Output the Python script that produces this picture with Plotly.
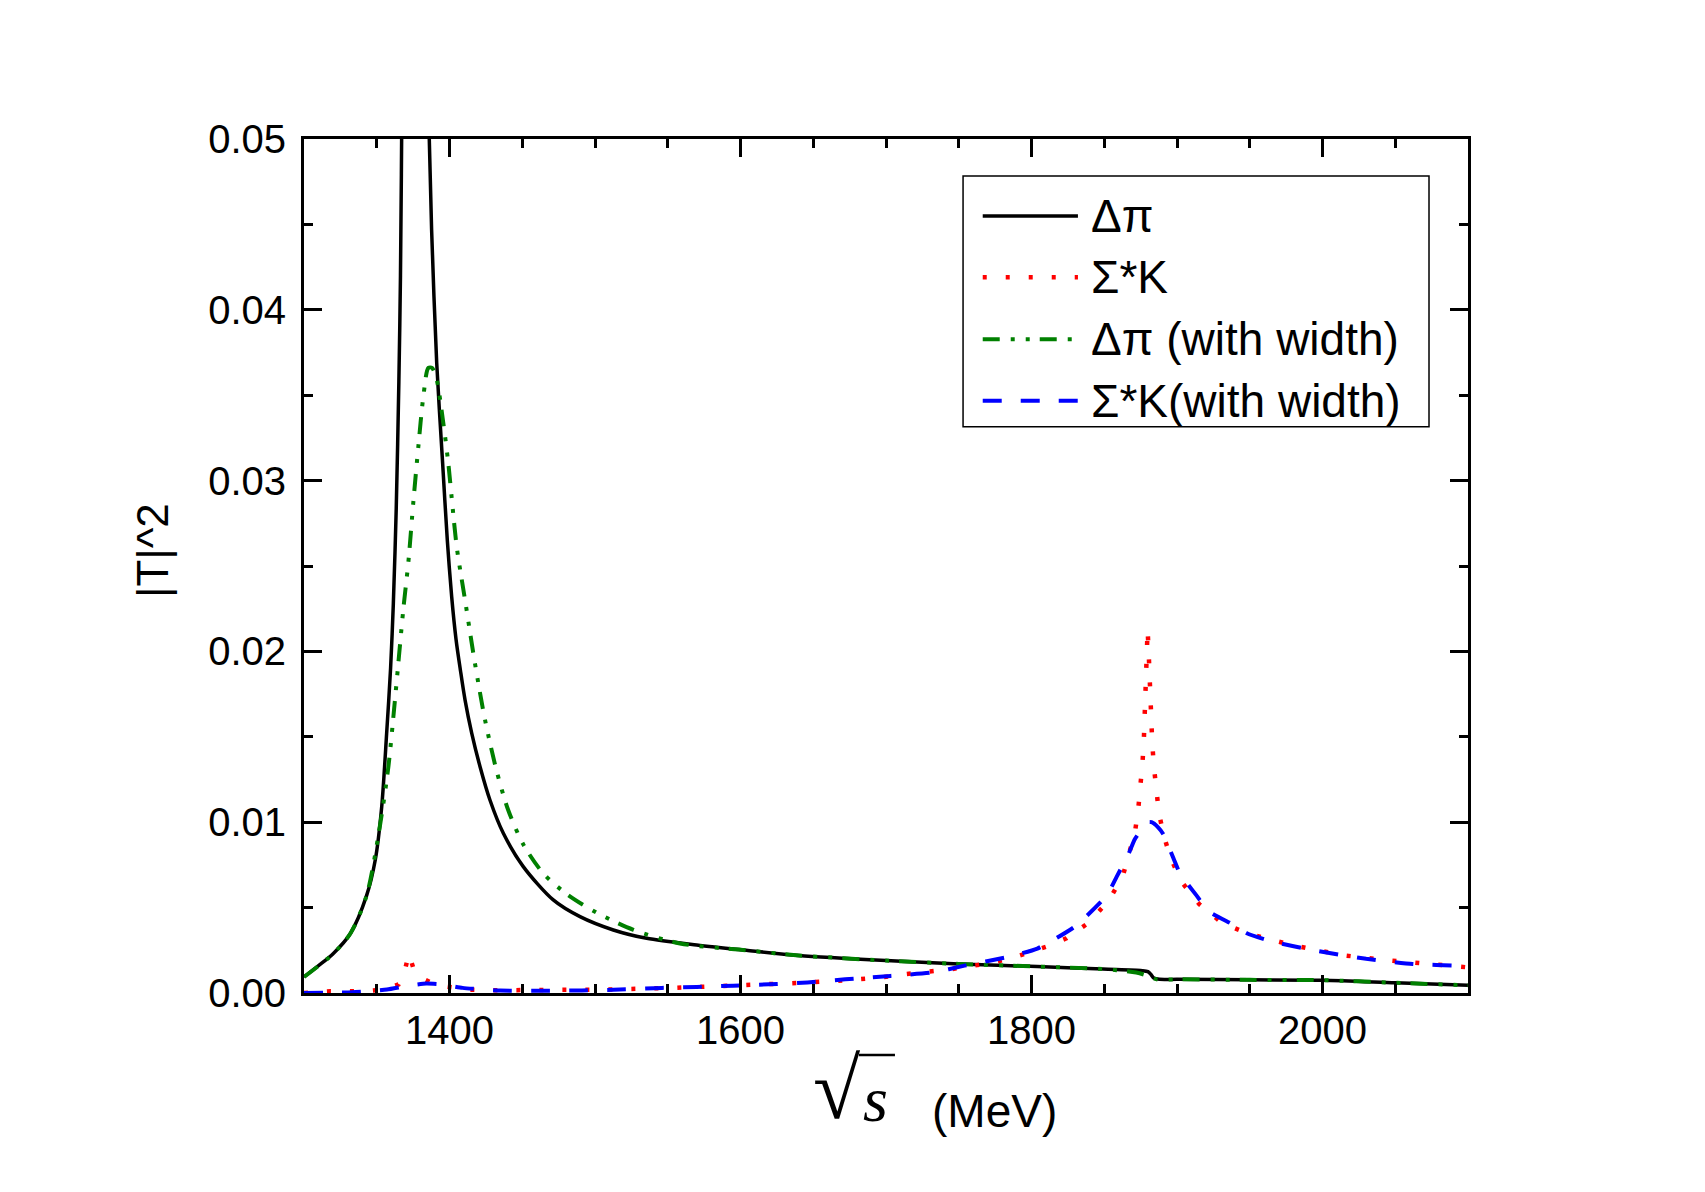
import plotly.graph_objects as go

# ---------------- data ----------------
dpi_x = [1300, 1310, 1320, 1332, 1343, 1349, 1353.4, 1356.8, 1359.5, 1361.4, 1363.4, 1365.2,
         1366.3, 1367.1, 1369, 1372, 1376, 1380, 1383, 1386.1, 1387.7, 1391.2, 1395.3,
         1398.5, 1401.5, 1404.5, 1407.5, 1410.7, 1415.3, 1421, 1427.8, 1437, 1450.7, 1471.3,
         1489.7, 1512.6, 1535.5, 1569.9, 1604, 1640, 1700, 1750, 1804, 1849, 1876, 1880,
         1882, 1884, 1888, 1900, 1950, 2000, 2050, 2100]
dpi_y = [0.00094, 0.0016, 0.0023, 0.0035, 0.0057, 0.0078, 0.0109, 0.0152, 0.019, 0.0228,
         0.0284, 0.0358, 0.042, 0.050, 0.08, 0.16, 0.30, 0.16, 0.08, 0.050, 0.0447, 0.0369,
         0.0310, 0.0265, 0.0232, 0.0207, 0.0189, 0.01715, 0.0152, 0.01325, 0.0113, 0.00935,
         0.0074, 0.00545, 0.00447, 0.00369, 0.0032, 0.00281, 0.0025, 0.0022, 0.0019, 0.0017,
         0.00155, 0.0014, 0.00131, 0.00125, 0.0011, 0.00088, 0.0008, 0.0008, 0.00077,
         0.00075, 0.0006, 0.00045]

sk_x = [1300, 1318, 1340, 1355, 1365, 1369, 1372, 1375, 1380, 1390, 1396, 1412, 1430, 1476,
        1508, 1554, 1590, 1634, 1665, 1695, 1713, 1745, 1775, 1792, 1810, 1824, 1839, 1853,
        1862.6, 1868, 1871.1, 1873.4, 1875, 1876.3, 1877.2, 1877.9, 1878.4, 1879, 1879.8,
        1880.5, 1881, 1881.5, 1882.1, 1883, 1884.2, 1885.5, 1887.6, 1891.3, 1895.6, 1903.2,
        1915.3, 1931, 1948, 1979, 2015, 2047, 2100]
sk_y = [0.0, 0.0001, 0.0001, 0.0002, 0.0005, 0.0012, 0.0023, 0.0015, 0.0009, 0.0005, 0.0004,
        0.0002, 0.00016, 0.00015, 0.0002, 0.0003, 0.0004, 0.00057, 0.0007, 0.0009, 0.0011,
        0.0014, 0.0018, 0.0022, 0.0027, 0.0032, 0.0041, 0.0054, 0.0068, 0.0085, 0.0094,
        0.0108, 0.0121, 0.0135, 0.0148, 0.0162, 0.0175, 0.0195, 0.0213, 0.0200, 0.0186,
        0.0173, 0.0159, 0.0146, 0.0132, 0.0119, 0.0105, 0.0091, 0.0079, 0.0065, 0.0052,
        0.0041, 0.0035, 0.0028, 0.0022, 0.0019, 0.0015]

dpiw_x = [1300, 1320, 1332, 1343, 1352.2, 1358, 1362.5, 1368.3, 1371.7, 1375.1, 1378.6, 1382,
          1385.5, 1388, 1391.2, 1395.7, 1399.2, 1401.5, 1405, 1410.7, 1417.5, 1424.4, 1432.4,
          1440.4, 1450.7, 1464.5, 1480.5, 1501.2, 1526.4, 1558.4, 1604, 1640, 1700, 1750,
          1804, 1849, 1872, 1880, 1886, 1900, 1950, 2000, 2050, 2100]
dpiw_y = [0.00094, 0.0023, 0.0035, 0.0057, 0.0098, 0.01325, 0.01715, 0.0225, 0.0252, 0.0287,
          0.0320, 0.0349, 0.0366, 0.0366, 0.0359, 0.0334, 0.0310, 0.0290, 0.0261, 0.0230,
          0.0193, 0.0160, 0.0130, 0.0107, 0.0087, 0.0070, 0.0058, 0.0047, 0.0037, 0.0029,
          0.0025, 0.0022, 0.0019, 0.0017, 0.00155, 0.0014, 0.0012, 0.0010, 0.0008, 0.0008,
          0.00077, 0.00075, 0.0006, 0.00045]

skw_x = [1300, 1333, 1357, 1370, 1384, 1395, 1409, 1435, 1464, 1491, 1517, 1546, 1570, 1595,
         1625, 1646, 1672, 1703, 1732, 1754, 1783, 1804, 1830, 1851.6, 1858.5, 1866.5, 1871,
         1876, 1880, 1882.5, 1887, 1890.6, 1897.5, 1902, 1913.5, 1921.5, 1938.7, 1948, 1966,
         1994, 2030, 2062, 2095, 2100]
skw_y = [0.0, 0.00004, 0.0002, 0.0004, 0.00055, 0.0005, 0.0003, 0.00014, 0.00013, 0.00015,
         0.0002, 0.0003, 0.00035, 0.00043, 0.00053, 0.00062, 0.0008, 0.0010, 0.0012, 0.0016,
         0.0021, 0.0026, 0.0039, 0.0057, 0.0068, 0.0081, 0.0090, 0.0096, 0.0100, 0.0100,
         0.0097, 0.0093, 0.0079, 0.0070, 0.0057, 0.0048, 0.0040, 0.0035, 0.0030, 0.0025,
         0.0020, 0.0017, 0.0016, 0.0016]

series_names = ["Δπ", "Σ*K", "Δπ (with width)", "Σ*K(with width)"]
x_ticks = [1400, 1600, 1800, 2000]
y_ticks = [0.00, 0.01, 0.02, 0.03, 0.04, 0.05]

# ---------------- styles ----------------
styles = [
    dict(color="black", width=3.5, dash="solid"),
    dict(color="#ff0000", width=4.5, dash="4px,19px"),
    dict(color="#008000", width=4, dash="17px,11px,4px,11px,4px,10px"),
    dict(color="#0000ff", width=4, dash="19px,19px"),
]
shapes_mode = [("spline", 0.8), ("linear", 0), ("spline", 0.8), ("spline", 0.5)]

FONT = "Liberation Sans, Arial, sans-serif"

fig = go.Figure()
for (xs, ys), name, st, (shp, sm) in zip(
        [(dpi_x, dpi_y), (sk_x, sk_y), (dpiw_x, dpiw_y), (skw_x, skw_y)],
        series_names, styles, shapes_mode):
    line = dict(st, shape=shp)
    if shp == "spline":
        line["smoothing"] = sm
    fig.add_trace(go.Scatter(x=xs, y=ys, mode="lines", name=name, line=line,
                             showlegend=False))

axis_common = dict(
    showline=True, linecolor="black", linewidth=3, mirror="ticks",
    ticks="inside", ticklen=18, tickwidth=3, tickcolor="black",
    showgrid=False, zeroline=False,
    tickfont=dict(family=FONT, size=40, color="black"),
)

fig.update_xaxes(range=[1300, 2100], tickvals=x_ticks,
                 minor=dict(ticks="inside", ticklen=9, tickwidth=3, tickcolor="black", dtick=50,
                            tick0=1300, showgrid=False),
                 ticklabelstandoff=0, **axis_common)
fig.update_yaxes(range=[0, 0.05], tickvals=y_ticks, tickformat=".2f",
                 minor=dict(ticks="inside", ticklen=9, tickwidth=3, tickcolor="black", dtick=0.005,
                            tick0=0, showgrid=False),
                 ticklabelstandoff=7, **axis_common)

# ---------------- legend drawn by hand ----------------
shapes = [dict(type="rect", xref="paper", yref="paper", x0=0.5662, x1=0.9665, y0=0.6631, y1=0.9567,
               line=dict(color="black", width=1.5), fillcolor="rgba(0,0,0,0)")]
annotations = []
rows_y = [0.9098, 0.8381, 0.7655, 0.6936]
for ry, name, st in zip(rows_y, series_names, styles):
    shapes.append(dict(type="line", xref="paper", yref="paper", x0=0.5831, x1=0.6649, y0=ry, y1=ry,
                       line=dict(color=st["color"], width=st["width"], dash=st["dash"])))
    annotations.append(dict(xref="paper", yref="paper", x=0.6744, y=ry, text=name, showarrow=False,
                            xanchor="left", yanchor="middle",
                            font=dict(family=FONT, size=46, color="black")))

# y axis title
annotations.append(dict(xref="paper", yref="paper", x=-0.1306, y=0.5187, text="|T|^2",
                        textangle=-90, showarrow=False, xanchor="center", yanchor="middle",
                        font=dict(family=FONT, size=44, color="black")))
# x axis title: radical sign, italic s, overline bar, (MeV)
annotations.append(dict(xref="paper", yref="paper", x=0.4802, y=-0.112, text="√",
                        showarrow=False, xanchor="right", yanchor="middle",
                        font=dict(family="Liberation Serif", size=86, color="black")))
annotations.append(dict(xref="paper", yref="paper", x=0.4914, y=-0.1250, text="<i>s</i>",
                        showarrow=False, xanchor="center", yanchor="middle",
                        font=dict(family="Liberation Serif", size=64, color="black")))
annotations.append(dict(xref="paper", yref="paper", x=0.5936, y=-0.1382, text="(MeV)",
                        showarrow=False, xanchor="center", yanchor="middle",
                        font=dict(family=FONT, size=46, color="black")))
shapes.append(dict(type="line", xref="paper", yref="paper", x0=0.4768, x1=0.5077,
                   y0=-0.0726, y1=-0.0726, line=dict(color="black", width=2.5)))

fig.update_layout(
    width=1705, height=1192,
    margin=dict(l=304, r=237, t=139, b=199),
    paper_bgcolor="white", plot_bgcolor="white",
    shapes=shapes, annotations=annotations,
    font=dict(family=FONT, color="black"),
)

fig.write_html("out.html")
